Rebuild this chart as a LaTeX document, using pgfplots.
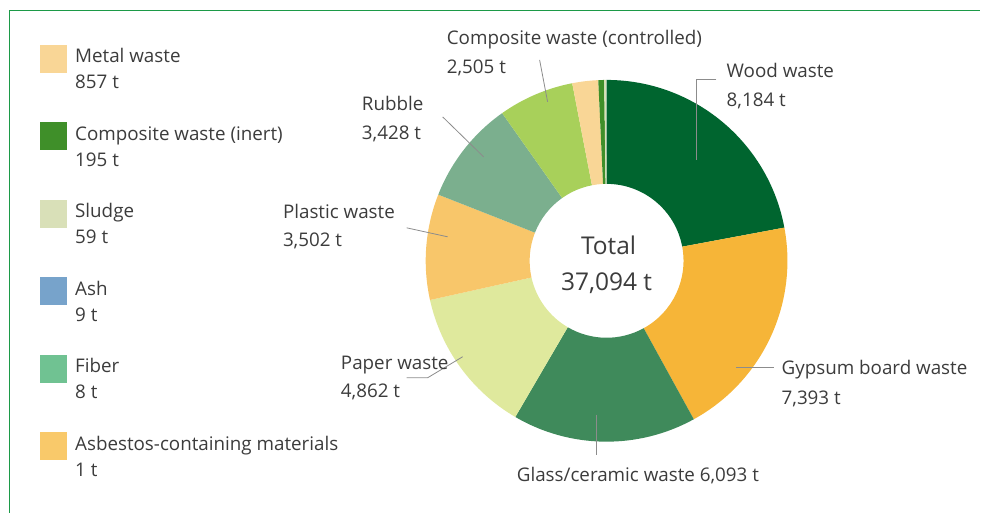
\documentclass[border=0pt]{standalone}
\usepackage{pgfplots}
\usepackage{pgfplotstable}
\pgfplotsset{compat=1.18}
\usepackage{fontspec}
\setmainfont{Open Sans}

\definecolor{cWood}{HTML}{00652F}
\definecolor{cGyp}{HTML}{F6B538}
\definecolor{cGlass}{HTML}{3F8A5B}
\definecolor{cPaper}{HTML}{DFE99D}
\definecolor{cPlastic}{HTML}{F8C66A}
\definecolor{cRubble}{HTML}{7BAF8E}
\definecolor{cCompC}{HTML}{A8D05A}
\definecolor{cMetal}{HTML}{F9D696}
\definecolor{cCompI}{HTML}{3F8F29}
\definecolor{cSludge}{HTML}{D9E0B8}
\definecolor{cAsh}{HTML}{77A3CB}
\definecolor{cFiber}{HTML}{70C292}
\definecolor{cAsb}{HTML}{F9C96A}
\definecolor{txt}{HTML}{3C3C3C}
\definecolor{lead}{HTML}{8C8C8C}
\definecolor{frame}{HTML}{1C9A48}

\pgfplotstableread[col sep=comma]{
name,value,col
Wood waste,8184,cWood
Gypsum board waste,7393,cGyp
Glass/ceramic waste,6093,cGlass
Paper waste,4862,cPaper
Plastic waste,3502,cPlastic
Rubble,3428,cRubble
Composite waste (controlled),2505,cCompC
Metal waste,857,cMetal
Composite waste (inert),195,cCompI
Sludge,59,cSludge
Ash,9,cAsh
Fiber,8,cFiber
Asbestos-containing materials,1,cAsb
}\wastetable

\begin{document}
\begin{tikzpicture}
% cumulative sums (in thousands of t) and angles (clockwise from 12 o'clock)
\def\total{0}
\pgfplotsforeachungrouped \i in {0,...,12}{%
  \pgfplotstablegetelem{\i}{value}\of\wastetable
  \pgfmathsetmacro\total{\total+\pgfplotsretval/1000}%
}
\def\cum{0}
\pgfplotsforeachungrouped \i in {0,...,12}{%
  \pgfmathsetmacro\aA{90-360*(\cum/\total)}%
  \pgfplotstablegetelem{\i}{value}\of\wastetable
  \pgfmathsetmacro\cum{\cum+\pgfplotsretval/1000}%
  \pgfmathsetmacro\aB{90-360*(\cum/\total)}%
  \expandafter\xdef\csname angA\i\endcsname{\aA}%
  \expandafter\xdef\csname angB\i\endcsname{\aB}%
  \pgfplotstablegetelem{\i}{col}\of\wastetable
  \colorlet{w\i}{\pgfplotsretval}%
}
\begin{axis}[
  width=981pt, height=513pt, scale only axis,
  xmin=0, xmax=981, ymin=0, ymax=513,
  hide axis, clip=false,
]
\path (axis cs:0,0) rectangle (axis cs:981,513);
% frame
\draw[frame, line width=1.4pt] (axis cs:9.5,0) -- (axis cs:9.5,502.5) -- (axis cs:981,502.5);

% donut wedges
\pgfplotsinvokeforeach{0,...,12}{
  \fill[w#1] (axis cs:607,252) ++(\csname angA#1\endcsname:181pt)
     arc[start angle=\csname angA#1\endcsname, end angle=\csname angB#1\endcsname, radius=181pt]
     -- ([shift={(\csname angB#1\endcsname:77pt)}]axis cs:607,252)
     arc[start angle=\csname angB#1\endcsname, end angle=\csname angA#1\endcsname, radius=77pt]
     -- cycle;
}

% leader lines
\draw[lead, line width=0.8pt] (axis cs:540,453) -- (axis cs:548,411);
\draw[lead, line width=0.8pt] (axis cs:717,434) -- (axis cs:697,434) -- (axis cs:697,353);
\draw[lead, line width=0.8pt] (axis cs:443,396) -- (axis cs:484,356);
\draw[lead, line width=0.8pt] (axis cs:407,285) -- (axis cs:448,276);
\draw[lead, line width=0.8pt] (axis cs:407,135) -- (axis cs:428,135) -- (axis cs:463,156);
\draw[lead, line width=0.8pt] (axis cs:737,145) -- (axis cs:775,145);
\draw[lead, line width=0.8pt] (axis cs:597,98) -- (axis cs:597,58);

% labels
\begin{scope}[every node/.style={text=txt, inner sep=0pt, anchor=base west, font=\fontsize{18.8}{22}\selectfont}]
\node at (axis cs:447,468) {Composite waste (controlled)};
\node at (axis cs:447,439) {2,505 t};
\node at (axis cs:727,435) {Wood waste};
\node at (axis cs:727,406) {8,184 t};
\node at (axis cs:362,402) {Rubble};
\node at (axis cs:362,373) {3,428 t};
\node at (axis cs:283,294) {Plastic waste};
\node at (axis cs:283,266) {3,502 t};
\node at (axis cs:341,143) {Paper waste};
\node at (axis cs:341,115) {4,862 t};
\node at (axis cs:782,138) {Gypsum board waste};
\node at (axis cs:782,108) {7,393 t};
\node at (axis cs:517,31) {Glass/ceramic waste 6,093 t};
% legend
\node at (axis cs:75,450) {Metal waste};
\node at (axis cs:75,424) {857 t};
\node at (axis cs:75,372.5) {Composite waste (inert)};
\node at (axis cs:75,346.5) {195 t};
\node at (axis cs:75,295) {Sludge};
\node at (axis cs:75,269) {59 t};
\node at (axis cs:75,217.5) {Ash};
\node at (axis cs:75,191.5) {9 t};
\node at (axis cs:75,140) {Fiber};
\node at (axis cs:75,114) {8 t};
\node at (axis cs:75,62.5) {Asbestos-containing materials};
\node at (axis cs:75,36.5) {1 t};
\end{scope}
\node[text=txt, inner sep=0pt, anchor=base, font=\fontsize{24.5}{28}\selectfont] at (axis cs:609,258) {Total};
\node[text=txt, inner sep=0pt, anchor=base, font=\fontsize{24.5}{28}\selectfont] at (axis cs:607,222) {37,094 t};

% legend swatches
\fill[w7]  (axis cs:40,468) rectangle (axis cs:67,440);
\fill[w8]  (axis cs:40,390.5) rectangle (axis cs:67,362.5);
\fill[w9]  (axis cs:40,313) rectangle (axis cs:67,285);
\fill[w10] (axis cs:40,235.5) rectangle (axis cs:67,207.5);
\fill[w11] (axis cs:40,158) rectangle (axis cs:67,130);
\fill[w12] (axis cs:40,80.5) rectangle (axis cs:67,52.5);
\end{axis}
\end{tikzpicture}
\end{document}
